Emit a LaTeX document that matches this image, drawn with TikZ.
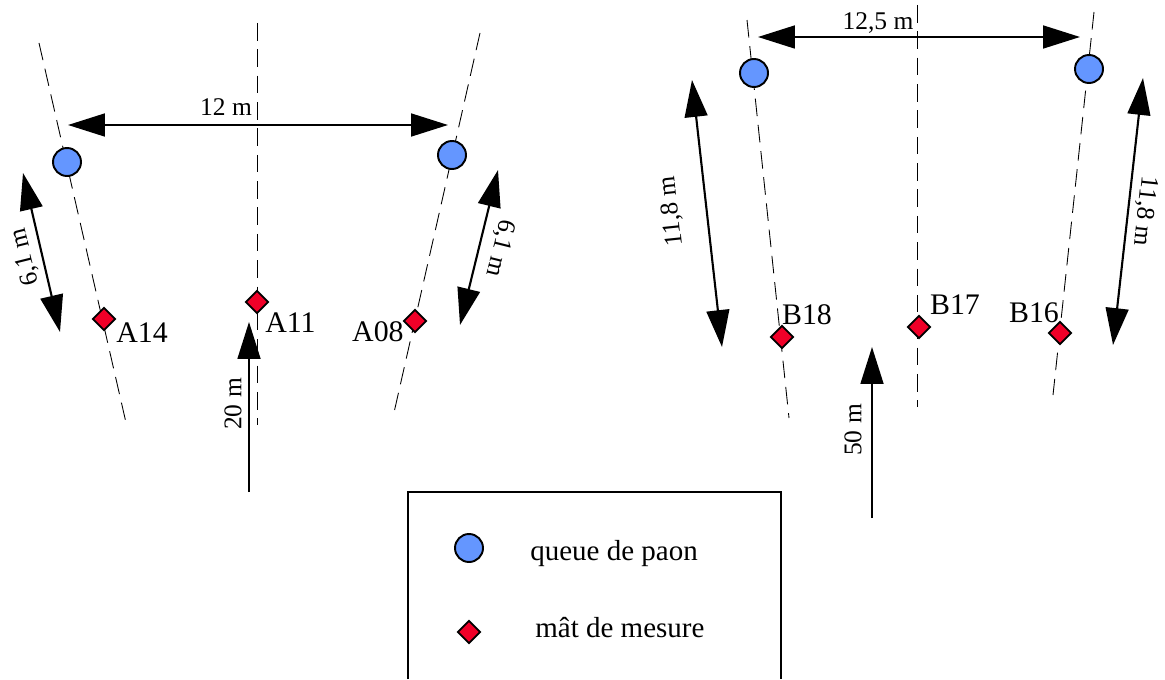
\documentclass[tikz,border=0pt]{standalone}
\usepackage{fontspec}
\setmainfont{Liberation Serif}
\usetikzlibrary{arrows.meta,shapes.geometric}
\definecolor{paonblue}{RGB}{100,150,255}
\definecolor{mastred}{RGB}{240,0,40}

\begin{document}
\begin{tikzpicture}[x=0.02cm, y=-0.02cm,
    >={Triangle[length=21pt,width=13pt]},
    paon/.style={circle, draw, line width=1.1pt, fill=paonblue, minimum size=0.56cm, inner sep=0pt},
    mast/.style={diamond, draw, line width=1pt, fill=mastred, minimum size=0.46cm, inner sep=0pt},
    axis/.style={dash pattern=on 10pt off 5pt, line width=0.5pt},
    dim/.style={<->, line width=1.2pt},
    push/.style={->, line width=1.2pt},
    lbl/.style={font=\fontsize{17}{20}\selectfont, inner sep=0pt},
    dimlbl/.style={font=\fontsize{14.5}{17}\selectfont, inner sep=0pt},
    leg/.style={font=\fontsize{16.5}{19}\selectfont, inner sep=0pt}]
    \useasboundingbox (0,0) rectangle (1165,679);

    % site A : axis lines
    \coordinate (aL1) at (39,43);   \coordinate (aL2) at (127,427);
    \coordinate (aC1) at (257,23);  \coordinate (aC2) at (257,425);
    \coordinate (aR1) at (480,33);  \coordinate (aR2) at (393,417);
    \draw[axis] (aL1) -- (aL2);
    \draw[axis] (aC1) -- (aC2);
    \draw[axis] (aR1) -- (aR2);

    \node[paon] (pA1) at (67,162)  {};
    \node[paon] (pA2) at (452,155) {};
    \node[mast] (A14) at (104,319) {};
    \node[mast] (A11) at (257,302) {};
    \node[mast] (A08) at (415,321) {};
    \node[lbl, anchor=west] (tA14) at (116,333) {A14};
    \node[lbl, anchor=west] (tA11) at (265,323) {A11};
    \node[lbl, anchor=east] (tA08) at (404,332) {A08};

    % site A : distances
    \coordinate (wA1) at (68,125);   \coordinate (wA2) at (448,125);
    \coordinate (sA1) at (23,173);   \coordinate (sA2) at (60,332);
    \coordinate (sA3) at (498,170);  \coordinate (sA4) at (460,325);
    \coordinate (vA1) at (249,492);  \coordinate (vA2) at (249,322);
    \draw[dim] (wA1) -- (wA2);
    \draw[dim] (sA1) -- (sA2);
    \draw[dim] (sA3) -- (sA4);
    \draw[push] (vA1) -- (vA2);
    \node[dimlbl] (dA1) at (226,107) {12 m};
    \node[dimlbl, rotate=104] (dA2) at (25,257) {6,1 m};
    \node[dimlbl, rotate=-104] (dA3) at (500,248) {6,1 m};
    \node[dimlbl, rotate=90] (dA4) at (233,404) {20 m};

    % site B : axis lines
    \coordinate (bL1) at (747,20);   \coordinate (bL2) at (789,418);
    \coordinate (bC1) at (917,5);    \coordinate (bC2) at (917,407);
    \coordinate (bR1) at (1094,12);  \coordinate (bR2) at (1053,395);
    \draw[axis] (bL1) -- (bL2);
    \draw[axis] (bC1) -- (bC2);
    \draw[axis] (bR1) -- (bR2);

    \node[paon] (pB1) at (754,73)  {};
    \node[paon] (pB2) at (1089,69) {};
    \node[mast] (B18) at (782,337) {};
    \node[mast] (B17) at (919,327) {};
    \node[mast] (B16) at (1060,333) {};
    \node[lbl] (tB18) at (807,315) {B18};
    \node[lbl] (tB17) at (955,305) {B17};
    \node[lbl] (tB16) at (1034,313) {B16};

    % site B : distances
    \coordinate (wB1) at (758,37);   \coordinate (wB2) at (1080,37);
    \coordinate (sB1) at (692,80);   \coordinate (sB2) at (722,347);
    \coordinate (sB3) at (1143,78);  \coordinate (sB4) at (1113,345);
    \coordinate (vB1) at (872,518);  \coordinate (vB2) at (872,347);
    \draw[dim] (wB1) -- (wB2);
    \draw[dim] (sB1) -- (sB2);
    \draw[dim] (sB3) -- (sB4);
    \draw[push] (vB1) -- (vB2);
    \node[dimlbl] (dB1) at (878,23) {12,5 m};
    \node[dimlbl, rotate=96] (dB2) at (672,211) {11,8 m};
    \node[dimlbl, rotate=-96] (dB3) at (1145,211) {11,8 m};
    \node[dimlbl, rotate=90] (dB4) at (853,430) {50 m};

    % legend
    \coordinate (k1) at (408,679);  \coordinate (k2) at (408,492);
    \coordinate (k3) at (781,492);  \coordinate (k4) at (781,679);
    \draw[line width=1.1pt] (k1) -- (k2) -- (k3) -- (k4);
    \node[paon] (kp) at (469,548) {};
    \node[mast] (km) at (469,632) {};
    \node[leg, anchor=base west] (kpt) at (530,560) {queue de paon};
    \node[leg, anchor=base west] (kmt) at (535,637) {mât de mesure};
\end{tikzpicture}
\end{document}
